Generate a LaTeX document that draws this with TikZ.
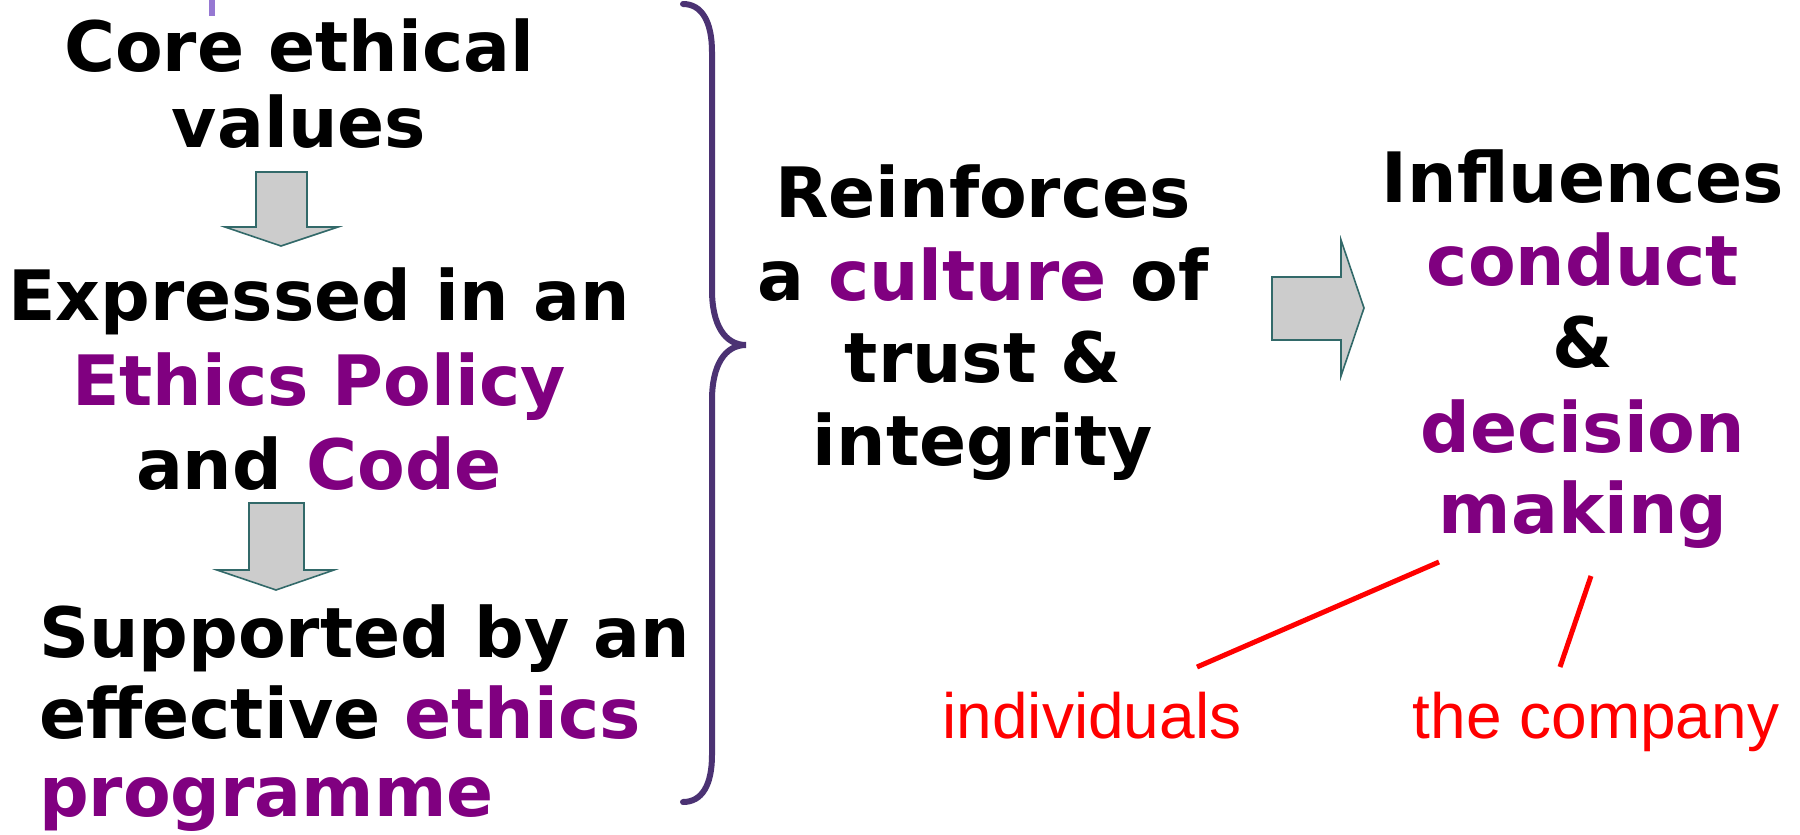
\documentclass[tikz,border=0pt]{standalone}
\usepackage{fontspec}
\setmainfont{DejaVu Sans}
\newfontfamily\arialfont{Liberation Sans}
\definecolor{purp}{RGB}{128,0,128}
\definecolor{bracecol}{RGB}{75,50,115}
\definecolor{tickcol}{RGB}{150,120,210}
\definecolor{arrowgray}{RGB}{204,204,204}
\definecolor{arrowedge}{RGB}{50,105,105}
\begin{document}
\begin{tikzpicture}[x=1pt,y=-1pt,
  big/.style={font=\fontsize{69.5}{80}\selectfont\bfseries, anchor=base, inner sep=0pt},
  redlabel/.style={font=\arialfont\fontsize{64}{70}\selectfont, text=red, anchor=base, inner sep=0pt},
  blockarrow/.style={fill=arrowgray, draw=arrowedge, line width=1.6pt, line join=miter},
  redline/.style={draw=red, line width=5pt}]
\useasboundingbox (0,0) rectangle (1800,835);

% small tick at top
\draw[tickcol, line width=6pt] (212,0) -- (212,16);

% left column
\node[big] (l1) at (299,71) {Core ethical};
\node[big] (l2) at (299,147) {values};
\node[big] (l3) at (319,320) {Expressed in an};
\node[big,text=purp] (l4) at (319,405) {Ethics Policy};
\node[big] (l5) at (319,489) {and \textcolor{purp}{Code}};
\node[big,anchor=base west] (l6) at (39,657) {Supported by an};
\node[big,anchor=base west] (l7) at (39,738) {effective \textcolor{purp}{ethics}};
\node[big,anchor=base west,text=purp] (l8) at (39,816) {programme};

% down arrows
\draw[blockarrow] (256,172) -- (307,172) -- (307,227) -- (338,227) -- (281,246) -- (225,227) -- (256,227) -- cycle;
\draw[blockarrow] (249,503) -- (304,503) -- (304,570) -- (334,570) -- (276,590) -- (217,570) -- (249,570) -- cycle;

% brace
\draw[bracecol, line width=6pt, line cap=round]
  (683,4) .. controls (702,4) and (712,22) .. (712,52) -- (712,290)
  .. controls (712,325) and (725,345) .. (746,345)
  .. controls (725,345) and (712,365) .. (712,400) -- (712,755)
  .. controls (712,785) and (702,802) .. (683,802);

% middle column
\node[big] (m1) at (983,217) {Reinforces};
\node[big] (m2) at (983,300) {a \textcolor{purp}{culture} of};
\node[big] (m3) at (983,382) {trust \&};
\node[big] (m4) at (983,465) {integrity};

% right arrow
\draw[blockarrow] (1272,277) -- (1341,277) -- (1341,240) -- (1364,308) -- (1341,376) -- (1341,340) -- (1272,340) -- cycle;

% right column
\node[big] (r1) at (1583,202) {Influences};
\node[big,text=purp] (r2) at (1583,285) {conduct};
\node[big] (r3) at (1583,367) {\&};
\node[big,text=purp] (r4) at (1583,452) {decision};
\node[big,text=purp] (r5) at (1583,533) {making};

% red labels and lines
\node[redlabel] (ind) at (1092,738) {individuals};
\node[redlabel] (comp) at (1596,738) {the company};
\coordinate (a1) at (1439,562);
\coordinate (a2) at (1197,667);
\coordinate (b1) at (1591,576);
\coordinate (b2) at (1560,667);
\draw[redline] (a1) -- (a2);
\draw[redline] (b1) -- (b2);
\end{tikzpicture}
\end{document}
